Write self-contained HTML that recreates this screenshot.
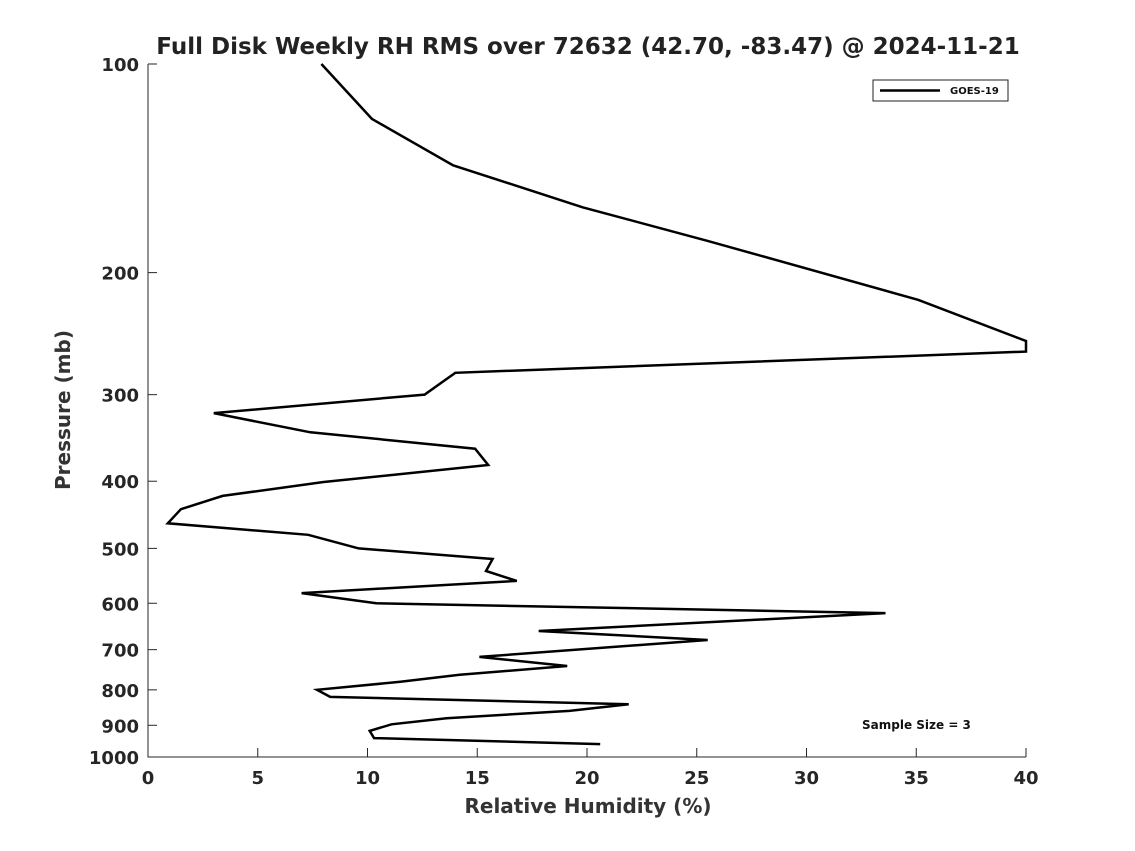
<!DOCTYPE html>
<html><head><meta charset="utf-8"><style>
body{margin:0;background:#fff;}
svg{display:block;font-family:"DejaVu Sans","Liberation Sans",sans-serif;}
</style></head><body>
<svg id="chart" width="1135" height="851" viewBox="0 0 1135 851">
<rect width="1135" height="851" fill="#fff"/>
<text x="588" y="54" text-anchor="middle" font-size="23" font-weight="bold" fill="#222">Full Disk Weekly RH RMS over 72632 (42.70, -83.47) @ 2024-11-21</text>
<g id="axes"></g>
<g id="series"></g>
<text x="588" y="813" text-anchor="middle" font-size="20" font-weight="bold" fill="#333">Relative Humidity (%)</text>
<text transform="translate(70,410) rotate(-90)" text-anchor="middle" font-size="20" font-weight="bold" fill="#333">Pressure (mb)</text>
<g>
<rect x="873" y="80" width="135" height="21" fill="#fff" stroke="#222" stroke-width="1"/>
<line x1="880" y1="90.5" x2="940" y2="90.5" stroke="#000" stroke-width="2.5"/>
<text x="950" y="94" font-size="10" font-weight="bold" fill="#111">GOES-19</text>
</g>
<text x="862" y="729" font-size="12" font-weight="bold" fill="#111">Sample Size = 3</text>
</svg>
<script>
const xTicks=[0,5,10,15,20,25,30,35,40];
const yTicks=[100,200,300,400,500,600,700,800,900,1000];
const rhValues=[7.9,10.2,13.9,19.8,25.5,35.1,40,40,14.0,12.6,3.0,7.4,14.9,15.5,8.0,3.4,1.5,0.9,7.3,9.6,15.7,15.4,16.8,7.0,10.4,33.6,17.8,25.5,15.1,19.1,14.2,11.5,7.7,8.3,21.9,19.2,13.6,11.1,10.1,10.3,20.6];
const pressures=[100,120,140,161,180,219,251,260,279,300,319,340,359,379,401,420,439,460,478,500,518,539,557,580,600,620,658,678,717,739,761,779,800,819,839,858,879,897,917,939,958];
const X0=148,X1=1026,Y0=64,Y1=757;
function xs(v){return X0+(v-0)/(40-0)*(X1-X0);}
function ys(p){return Y0+(Math.log10(p)-2)/(3-2)*(Y1-Y0);}
const NS="http://www.w3.org/2000/svg";
const axes=document.getElementById('axes');
function mk(tag,attrs,parent){const e=document.createElementNS(NS,tag);for(const k in attrs)e.setAttribute(k,attrs[k]);parent.appendChild(e);return e;}
const ax=mk('path',{d:`M${X0},${Y0}V${Y1}H${X1}`,fill:'none',stroke:'#262626','stroke-width':1},axes);


xTicks.forEach(t=>{const x=xs(t);
 const l=mk('line',{x1:x,x2:x,y1:Y1,y2:Y1-9,stroke:'#262626'},axes);
 
 
 const tx=mk('text',{x:x,y:Y1+27,'text-anchor':'middle','font-size':18,'font-weight':'bold',fill:'#262626'},axes);
 tx.textContent=t;
 
 
});
yTicks.forEach(t=>{const y=ys(t);
 const l=mk('line',{x1:X0,x2:X0+9,y1:y,y2:y,stroke:'#262626'},axes);
 
 
 const tx=mk('text',{x:X0-9,y:y+7,'text-anchor':'end','font-size':18,'font-weight':'bold',fill:'#262626'},axes);
 tx.textContent=t;
 
 
});
const pts=rhValues.map((v,i)=>xs(v).toFixed(1)+','+ys(pressures[i]).toFixed(1)).join(' ');
const line=mk('polyline',{points:pts,fill:'none',stroke:'#000','stroke-width':2.5,'stroke-linejoin':'miter'},document.getElementById('series'));


</script>
</body></html>
